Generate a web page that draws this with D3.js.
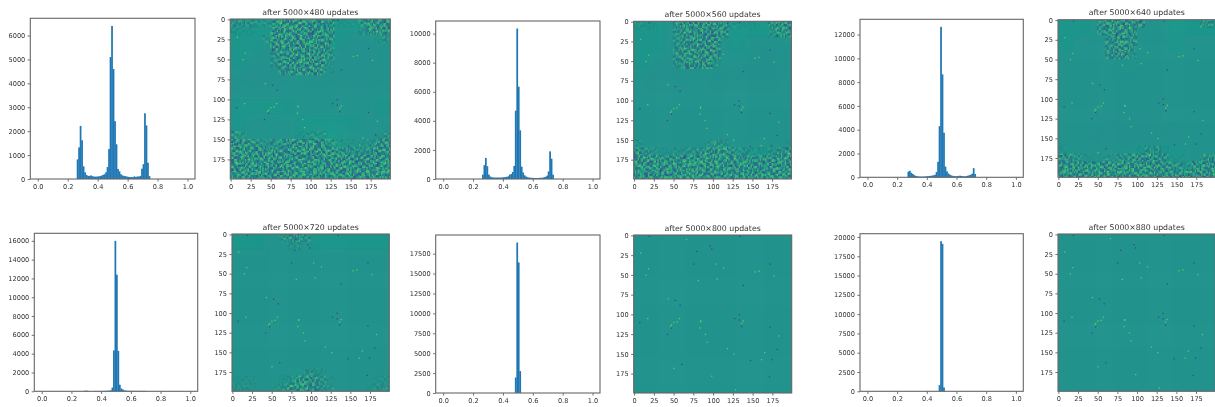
<!DOCTYPE html>
<html>
<head>
<meta charset="utf-8">
<script src="https://d3js.org/d3.v7.min.js"></script>
<style>
  body { margin: 0; background: #fff; overflow: hidden; }
  svg { display: block; filter: blur(0.65px); }
  text { font-family: "DejaVu Sans", sans-serif; fill: #333; }
</style>
</head>
<body>
<div id="chart"></div>
<script>
const updates = [480, 560, 640, 720, 800, 880];
const histTicks = [0, 0.2, 0.4, 0.6, 0.8, 1];
const countTickSteps = [1000, 2000, 2000, 2000, 2500, 2500];
const mapTicks = [0, 25, 50, 75, 100, 125, 150, 175];

// histogram counts per 0.01 bin, first bin given by binStarts
const binStarts = [0.26, 0.26, 0.27, 0.28, 0.48, 0.48];
const counts480 = [820, 1320, 2220, 1620, 530, 280, 170, 130, 130, 150, 120, 100, 100, 100, 110, 120, 140, 170, 200, 280, 500, 1250, 5100, 6400, 4600, 2420, 1450, 420, 320, 200, 150, 130, 120, 100, 90, 80, 80, 80, 110, 80, 110, 100, 130, 430, 620, 2750, 2240, 680, 120];
const counts560 = [300, 950, 1450, 880, 300, 170, 120, 100, 100, 100, 100, 100, 100, 110, 120, 130, 150, 180, 300, 340, 480, 900, 4700, 10350, 6350, 3350, 850, 450, 250, 170, 120, 100, 90, 80, 70, 70, 70, 70, 80, 80, 90, 120, 150, 230, 520, 1900, 1400, 300];
const counts640 = [480, 550, 380, 280, 180, 120, 90, 70, 60, 60, 60, 70, 80, 90, 110, 120, 140, 170, 220, 450, 1300, 4300, 12650, 8650, 3750, 900, 500, 320, 220, 160, 120, 100, 90, 100, 120, 130, 110, 90, 80, 100, 130, 170, 220, 300, 770, 280];
const counts720 = [50, 60, 60, 20, 10, 0, 0, 30, 40, 10, 40, 30, 30, 40, 40, 50, 60, 70, 100, 400, 4350, 16000, 12400, 4300, 700, 300, 200, 100, 80, 60, 50, 50, 40, 40, 40, 40, 40, 40, 40, 40, 40, 40, 30];
const counts800 = [1950, 18900, 16400, 2750];
const counts880 = [800, 19450, 19100, 500];
const histCounts = [counts480, counts560, counts640, counts720, counts800, counts880];

// pixels of the map that stay the same in every panel: [col, row]
const brightPixels = [[66, 5], [8, 22], [18, 42], [15, 50], [103, 36], [113, 41], [153, 46], [158, 45], [177, 51], [105, 55], [81, 57], [43, 80], [17, 105], [57, 105], [50, 110], [47, 113], [46, 115], [54, 109], [84, 108], [84, 109], [83, 117], [138, 108], [136, 111], [90, 125], [92, 135], [183, 127], [118, 143], [126, 150], [165, 148], [161, 157], [50, 168], [98, 178], [128, 195]];
const darkPixels = [[19, 1], [134, 1], [96, 13], [98, 17], [79, 20], [75, 36], [172, 36], [138, 63], [52, 82], [58, 88], [7, 110], [133, 100], [127, 105], [133, 107], [136, 115], [172, 116], [47, 117], [42, 125], [181, 144], [60, 163], [147, 158], [174, 157], [171, 179]];

// background level of each map, 10x10
const flat = "5555555555";
const bg480 = ["6665566677", "6654566445", "6544555445", "5445545445", flat, "6666555556", "6555666655", "5555678555", "6666666666", "6666666666"];
const bg560 = ["6655566676", "6654556545", "6545555545", "5445545445", flat, flat, flat, flat, "5555566665", "6666666666"];
const bg640 = ["6655555766", "6555555655", flat, "5555455555", flat, flat, "5554445555", "5544444455", "5555566655", "6666666666"];
const bg720 = ["6655566666", flat, flat, flat, flat, flat, flat, flat, flat, "5556655555"];
const bg800 = [flat, flat, flat, flat, flat, flat, flat, flat, flat, flat];
const bg880 = [flat, flat, flat, flat, flat, flat, flat, flat, flat, flat];
const bgLevels = [bg480, bg560, bg640, bg720, bg800, bg880];

// how strong the speckle is per 10x10 pixel block, 0-9
const z = "00000000000000000000";
const nine = "99999999999999999999";
const noise480 = ["55433799999971116899", "21100899999970002899", "00003899999970000014", "00000899999960000000", "00000589999950000000", "00000489999920000000", "00000058999610000000", z, z, z, z, z, z, z, "63000000123200000014", "98753579999753111389", "99999999999997654699", nine, nine, nine];
const noise560 = ["31100689999821110589", "00000589999700000379", "00000589998100000000", "00000689997000000000", "00000689997000000000", "00000589981000000000", z, z, z, z, z, z, z, z, z, "20000000025300000001", "95311234799974321369", "99977899999987778999", nine, nine];
const noise640 = ["00000599998000000056", "00000689970000000000", "00000068970000000000", "00000068950000000000", "00000068820000000000", z, z, z, z, z, z, z, z, z, z, z, "10000000001551000000", "86511134689986110057", "99988899999997654899", "88998999999997889999"];
const noise720 = ["00000037850000000000", "00000002200000000000", z, z, z, z, z, z, z, z, z, z, z, z, z, z, z, "00000000033100000000", "11100013887410000012", "22100149998520000123"];
const noiseLevels = [noise480, noise560, noise640, noise720, null, null];

// speckle patch, 0 dark to 9 bright
const speckle = [
  "73382266781145778233667421887356",
  "62471788630257688124758312776245",
  "28563377412368271576823477134682",
  "17652466287741362788412586223571",
  "86224715378852147663371768442816",
  "77133628467323856372268857331725",
  "34887142653418772481557236678134",
  "25776333721567383157462147587243",
  "61458274886723164288373665124668",
  "82367185773412275367284776213577",
  "47126638224786643172667328857412",
  "38215747133887552684716237768321",
  "73884251678223417763825148423786",
  "64773362587134328852734257312875",
  "12657871423668773241688663781243",
  "26548782314577662138577754672134",
  "85331467762381257746213682358867",
  "76224358871472368857122771467758",
  "33718642557814276331786415874423",
  "42687753466725187422875324763512",
  "18473265237186733678342867128476",
  "27362174328277844767231758237387",
  "68155783664312758133687442876151",
  "77244872575421667224778331765262",
  "51786312483766321785426658341787",
  "43875423372857412876315767432678",
  "86312687165348873341678223786524",
  "75421778254237762452587314877433",
  "22687351743668135762318476123867",
  "13776462832577246871427385214758",
  "68243875618432657183766212883641",
  "57332784527341768274655123772532"
];

// where each panel sits on the page
const panels = [
  { histX: [30.3, 195], histY: [18.3, 179], mapX: 230.3, mapY: [19, 179] },
  { histX: [435.7, 600], histY: [21, 179], mapX: 633.7, mapY: [21.3, 179] },
  { histX: [860, 1023.3], histY: [19.3, 177.3], mapX: 1058, mapY: [19.7, 177.3] },
  { histX: [34.3, 197.7], histY: [233.3, 391.3], mapX: 232, mapY: [234, 391.3] },
  { histX: [435.7, 600], histY: [235, 393], mapX: 633.7, mapY: [235, 393] },
  { histX: [860, 1023.3], histY: [233.7, 391.3], mapX: 1058, mapY: [234, 391.3] }
];

const width = 1215;
const height = 407;
const binWidth = 0.01;
const cellsPerBlock = 6;
const speckleCell = 10 / cellsPerBlock; // map pixels per speckle cell
const bgBleed = 40; // outer background blocks run past the frame so the blur has no edge
const color = d3.scaleSequential(d3.interpolateViridis).domain([0, 1]);
const speckleValue = d3.scaleLinear().domain([0, 9]).range([0.18, 0.8]);
const bgValue = d3.scaleLinear().domain([0, 9]).range([0.44, 0.57]);

const svg = d3
  .select("#chart")
  .append("svg")
  .attr("width", width)
  .attr("height", height);

svg
  .append("defs")
  .append("filter")
  .attr("id", "soft")
  .attr("x", "-20%")
  .attr("y", "-20%")
  .attr("width", "140%")
  .attr("height", "140%")
  .append("feGaussianBlur")
  .attr("stdDeviation", 7);

const styleAxis = (g) => {
  g.selectAll("text").style("font-size", "6.6px");
  g.selectAll("line").attr("stroke", "#333").attr("stroke-width", 0.7);
  g.select(".domain").remove();
};

const drawFrame = (g, x0, y0, w, h) => {
  g.append("rect")
    .attr("x", x0)
    .attr("y", y0)
    .attr("width", w)
    .attr("height", h)
    .attr("fill", "none")
    .attr("stroke", "#666")
    .attr("stroke-width", 1.1);
};

const drawHistogram = (i) => {
  const box = panels[i];
  const counts = histCounts[i];
  const x = d3.scaleLinear().domain([-0.05, 1.05]).range(box.histX);
  const y = d3
    .scaleLinear()
    .domain([0, d3.max(counts) * 1.05])
    .range([box.histY[1], box.histY[0]]);
  const g = svg.append("g").attr("class", "hist");

  g.selectAll("rect.bar")
    .data(counts)
    .enter()
    .append("rect")
    .attr("class", "bar")
    .attr("x", (d, k) => x(binStarts[i] + k * binWidth))
    .attr("y", (d) => y(d))
    .attr("width", x(binWidth) - x(0) + 0.25)
    .attr("height", (d) => y(0) - y(d))
    .attr("fill", "#1f77b4");

  g.append("g")
    .attr("transform", `translate(0, ${box.histY[1]})`)
    .call(d3.axisBottom(x).tickValues(histTicks).tickFormat(d3.format(".1f")).tickSize(2.6).tickPadding(2.4))
    .call(styleAxis);
  g.append("g")
    .attr("transform", `translate(${box.histX[0]}, 0)`)
    .call(d3.axisLeft(y).tickValues(d3.range(0, y.domain()[1], countTickSteps[i])).tickFormat(d3.format("d")).tickSize(2.6).tickPadding(2.4))
    .call(styleAxis);

  drawFrame(g, box.histX[0], box.histY[0], box.histX[1] - box.histX[0], box.histY[1] - box.histY[0]);
};

const drawMap = (i) => {
  const box = panels[i];
  const side = box.mapY[1] - box.mapY[0];
  const x = d3.scaleLinear().domain([-0.5, 199.5]).range([box.mapX, box.mapX + side]);
  const y = d3.scaleLinear().domain([-0.5, 199.5]).range(box.mapY);
  const g = svg.append("g").attr("class", "map");
  const clipId = `clip-${i}`;

  g.append("clipPath")
    .attr("id", clipId)
    .append("rect")
    .attr("x", box.mapX)
    .attr("y", box.mapY[0])
    .attr("width", side)
    .attr("height", side);

  const plot = g.append("g").attr("clip-path", `url(#${clipId})`);

  const bgCells = bgLevels[i].flatMap((row, r) =>
    row.split("").map((d, c) => ({
      x0: c === 0 ? -bgBleed : c * 20,
      x1: c === 9 ? 200 + bgBleed : (c + 1) * 20,
      y0: r === 0 ? -bgBleed : r * 20,
      y1: r === 9 ? 200 + bgBleed : (r + 1) * 20,
      d: +d
    }))
  );
  plot
    .append("g")
    .attr("filter", "url(#soft)")
    .selectAll("rect")
    .data(bgCells)
    .enter()
    .append("rect")
    .attr("x", (d) => x(d.x0 - 0.5))
    .attr("y", (d) => y(d.y0 - 0.5))
    .attr("width", (d) => x(d.x1) - x(d.x0) + 0.5)
    .attr("height", (d) => y(d.y1) - y(d.y0) + 0.5)
    .attr("fill", (d) => color(bgValue(d.d)));

  const drawPixels = (list, value) => {
    plot
      .append("g")
      .selectAll("rect")
      .data(list)
      .enter()
      .append("rect")
      .attr("x", (d) => x(d[0] - 0.5))
      .attr("y", (d) => y(d[1] - 0.5))
      .attr("width", x(1.6) - x(0))
      .attr("height", y(1.6) - y(0))
      .attr("fill", color(value));
  };
  drawPixels(brightPixels, 0.76);
  drawPixels(darkPixels, 0.2);

  if (noiseLevels[i]) {
    const cells = [];
    noiseLevels[i].forEach((row, r10) => {
      row.split("").forEach((level, c10) => {
        if (+level === 0) return;
        // each block reads the patch from its own corner so no lattice shows
        const rowShift = r10 * 11 + c10 * 5 + i * 7;
        const colShift = c10 * 13 + r10 * 7 + i * 3;
        for (let b = 0; b < cellsPerBlock; b++) {
          for (let a = 0; a < cellsPerBlock; a++) {
            const digit = +speckle[(b + rowShift) % 32][(a + colShift) % 32];
            cells.push({ col: c10 * cellsPerBlock + a, row: r10 * cellsPerBlock + b, digit, level: +level });
          }
        }
      });
    });
    plot
      .append("g")
      .selectAll("rect")
      .data(cells)
      .enter()
      .append("rect")
      .attr("x", (d) => x(d.col * speckleCell - 0.5))
      .attr("y", (d) => y(d.row * speckleCell - 0.5))
      .attr("width", x(speckleCell) - x(0) + 0.1)
      .attr("height", y(speckleCell) - y(0) + 0.1)
      .attr("fill", (d) => color(speckleValue(d.digit)))
      .attr("opacity", (d) => d.level / 9);
  }

  g.append("g")
    .attr("transform", `translate(0, ${box.mapY[1]})`)
    .call(d3.axisBottom(x).tickValues(mapTicks).tickSize(2.6).tickPadding(2.4))
    .call(styleAxis);
  g.append("g")
    .attr("transform", `translate(${box.mapX}, 0)`)
    .call(d3.axisLeft(y).tickValues(mapTicks).tickSize(2.6).tickPadding(2.4))
    .call(styleAxis);

  drawFrame(g, box.mapX, box.mapY[0], side, side);

  g.append("text")
    .attr("x", box.mapX + side / 2)
    .attr("y", box.mapY[0] - 4.4)
    .attr("text-anchor", "middle")
    .style("font-size", "7.8px")
    .text(`after 5000\u00d7${updates[i]} updates`);
};

updates.forEach((u, i) => {
  drawHistogram(i);
  drawMap(i);
});
</script>
</body>
</html>
